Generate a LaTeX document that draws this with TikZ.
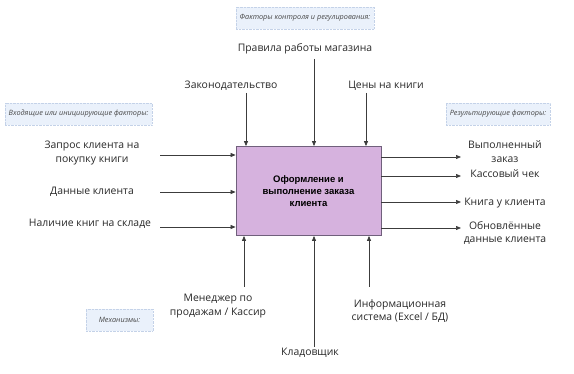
\documentclass[tikz,border=0pt]{standalone}
\usepackage{fontspec}
\setmainfont{Open Sans}
\newfontfamily\boxfont{Liberation Sans}
\definecolor{idlilac}{RGB}{214,178,222}
\definecolor{idborder}{RGB}{112,96,124}
\definecolor{idarrow}{RGB}{60,60,60}
\definecolor{idnotefill}{RGB}{234,241,251}
\definecolor{idnotedraw}{RGB}{196,210,232}
\definecolor{idtext}{RGB}{40,40,40}
\usetikzlibrary{arrows.meta,positioning,calc}

\begin{document}
\begin{tikzpicture}[x=1pt, y=-1pt,
    funcbox/.style={rectangle, draw=idborder, fill=idlilac, line width=0.8pt,
      minimum width=145pt, minimum height=89pt, align=center,
      font=\boxfont\bfseries\fontsize{9.5}{12}\selectfont},
    lbl/.style={align=center, text=idtext, font=\fontsize{10.4}{13.5}\selectfont, inner sep=1pt},
    note/.style={rectangle, draw=idnotedraw, densely dotted, fill=idnotefill,
      inner xsep=1pt, minimum height=22pt, text=idtext!85,
      font=\itshape\fontsize{7.3}{8}\selectfont},
    arr/.style={-{Triangle[length=5pt, width=4pt]}, idarrow, line width=0.7pt}
  ]
    \useasboundingbox (0,0) rectangle (574,374);

    % Function block
    \node[funcbox] (proc) at (308.5,191) {Оформление и\\выполнение заказа\\клиента};

    % Category notes
    \node[note, minimum width=138pt] (nctl) at (305,18) {Факторы контроля и регулирования:};
    \node[note, minimum width=147pt] (nin) at (78.5,114) {Входящие или инициирующие факторы:};
    \node[note, minimum width=104pt] (nout) at (498,114) {Результирующие факторы:};
    \node[note, minimum width=67pt] (nmech) at (119.5,320) {Механизмы:};

    % Controls
    \node[lbl] (ctl1) at (305,49) {Правила работы магазина};
    \node[lbl] (ctl2) at (231,86) {Законодательство};
    \node[lbl] (ctl3) at (386,86) {Цены на книги};
    \coordinate (c1) at (314,59);
    \coordinate (c2) at (246,93);
    \coordinate (c3) at (366,93);
    \draw[arr] (c1) -- (c1 |- proc.north);
    \draw[arr] (c2) -- (c2 |- proc.north);
    \draw[arr] (c3) -- (c3 |- proc.north);

    % Inputs
    \node[lbl] (in1) at (92,153) {Запрос клиента на\\покупку книги};
    \node[lbl] (in2) at (92,192) {Данные клиента};
    \node[lbl] (in3) at (90,224) {Наличие книг на складе};
    \coordinate (i1) at (160,155);
    \coordinate (i2) at (160,192);
    \coordinate (i3) at (160,227);
    \draw[arr] (i1) -- (i1 -| proc.west);
    \draw[arr] (i2) -- (i2 -| proc.west);
    \draw[arr] (i3) -- (i3 -| proc.west);

    % Outputs
    \node[lbl] (out1) at (505,151.5) {Выполненный\\заказ};
    \node[lbl] (out2) at (505,174) {Кассовый чек};
    \node[lbl] (out3) at (505,203) {Книга у клиента};
    \node[lbl] (out4) at (505,233) {Обновлённые\\данные клиента};
    \coordinate (o1) at (461,157);
    \coordinate (o2) at (461,176);
    \coordinate (o3) at (461,202);
    \coordinate (o4) at (461,228);
    \draw[arr] (o1 -| proc.east) -- (o1);
    \draw[arr] (o2 -| proc.east) -- (o2);
    \draw[arr] (o3 -| proc.east) -- (o3);
    \draw[arr] (o4 -| proc.east) -- (o4);

    % Mechanisms
    \node[lbl] (mech1) at (218,306) {Менеджер по\\продажам / Кассир};
    \node[lbl] (mech2) at (310,353) {Кладовщик};
    \node[lbl] (mech3) at (400,311) {Информационная\\система (Excel / БД)};
    \coordinate (m1) at (244,287);
    \coordinate (m2) at (314,347);
    \coordinate (m3) at (369,287);
    \draw[arr] (m1) -- (m1 |- proc.south);
    \draw[arr] (m2) -- (m2 |- proc.south);
    \draw[arr] (m3) -- (m3 |- proc.south);
\end{tikzpicture}
\end{document}
